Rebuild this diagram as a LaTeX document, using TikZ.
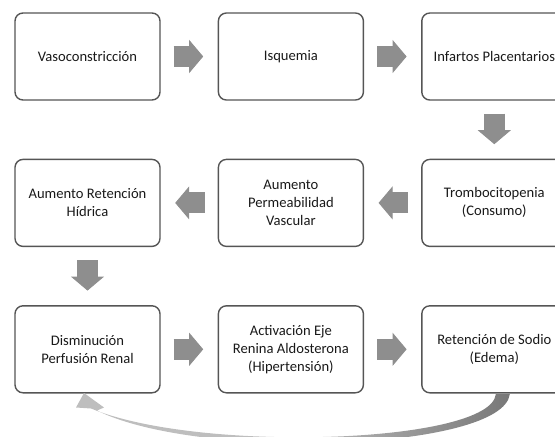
\documentclass[tikz,border=0pt]{standalone}
\usepackage{fontspec}
\setmainfont{Carlito}
\usetikzlibrary{positioning,arrows.meta,calc}
\definecolor{boxline}{HTML}{555555}
\definecolor{flowgray}{HTML}{8E8E8E}
\definecolor{curvelight}{HTML}{BEBEBE}
\definecolor{curvedark}{HTML}{787878}

\begin{document}
\begin{tikzpicture}[x=1pt,y=-1pt,node distance=58pt and 57pt,
  stage/.style={draw=boxline,line width=1.4pt,rounded corners=8pt,
    minimum width=145pt,minimum height=87pt,inner sep=2pt,align=center,
    text=black!90,font=\fontsize{14.6}{18}\selectfont},
  flow/.style={draw=flowgray,line width=21pt,
    -{Triangle[length=14pt,width=33pt,line width=1pt]},
    shorten <=13pt,shorten >=14.5pt}]
\useasboundingbox (0,0) rectangle (555,437);
\clip (0,0) rectangle (555,437);

% first row
\node[stage] (vaso) at (87.5,56.5) {Vasoconstricción};
\node[stage,right=of vaso] (isq) {Isquemia};
\node[stage,right=of isq] (infartos) {Infartos Placentarios};
% second row, right to left
\node[stage,below=of infartos] (trombo) {Trombocitopenia\\(Consumo)};
\node[stage,left=of trombo] (perm) {Aumento\\Permeabilidad\\Vascular};
\node[stage,left=of perm] (hidrica) {Aumento Retención\\Hídrica};
% third row
\node[stage,below=of hidrica] (perfusion) {Disminución\\Perfusión Renal};
\node[stage,right=of perfusion] (renina) {Activación Eje\\Renina Aldosterona\\(Hipertensión)};
\node[stage,right=of renina] (sodio) {Retención de Sodio\\(Edema)};

\draw[flow] (vaso) -- (isq);
\draw[flow] (isq) -- (infartos);
\draw[flow] (infartos) -- (trombo);
\draw[flow] (trombo) -- (perm);
\draw[flow] (perm) -- (hidrica);
\draw[flow] (hidrica) -- (perfusion);
\draw[flow] (perfusion) -- (renina);
\draw[flow] (renina) -- (sodio);

% curved return arrow
\coordinate (tail) at (sodio.south);
\coordinate (head) at (perfusion.south);
\shade[left color=curvelight,right color=curvedark,middle color=curvelight]
  ($(tail)+(15.5,0.7)$) .. controls ($(tail)+(8.5,57)$) and ($(head)+(112.5,68)$) .. ($(head)+(9.5,17)$)
  -- ($(head)+(16.5,14)$) -- ($(head)+(-3.5,-0.5)$) -- ($(head)+(-11.5,14)$) -- ($(head)+(3.5,15)$)
  .. controls ($(head)+(112.5,60)$) and ($(tail)+(-3.5,50)$) .. ($(tail)+(1.5,0.7)$) -- cycle;
\end{tikzpicture}
\end{document}
